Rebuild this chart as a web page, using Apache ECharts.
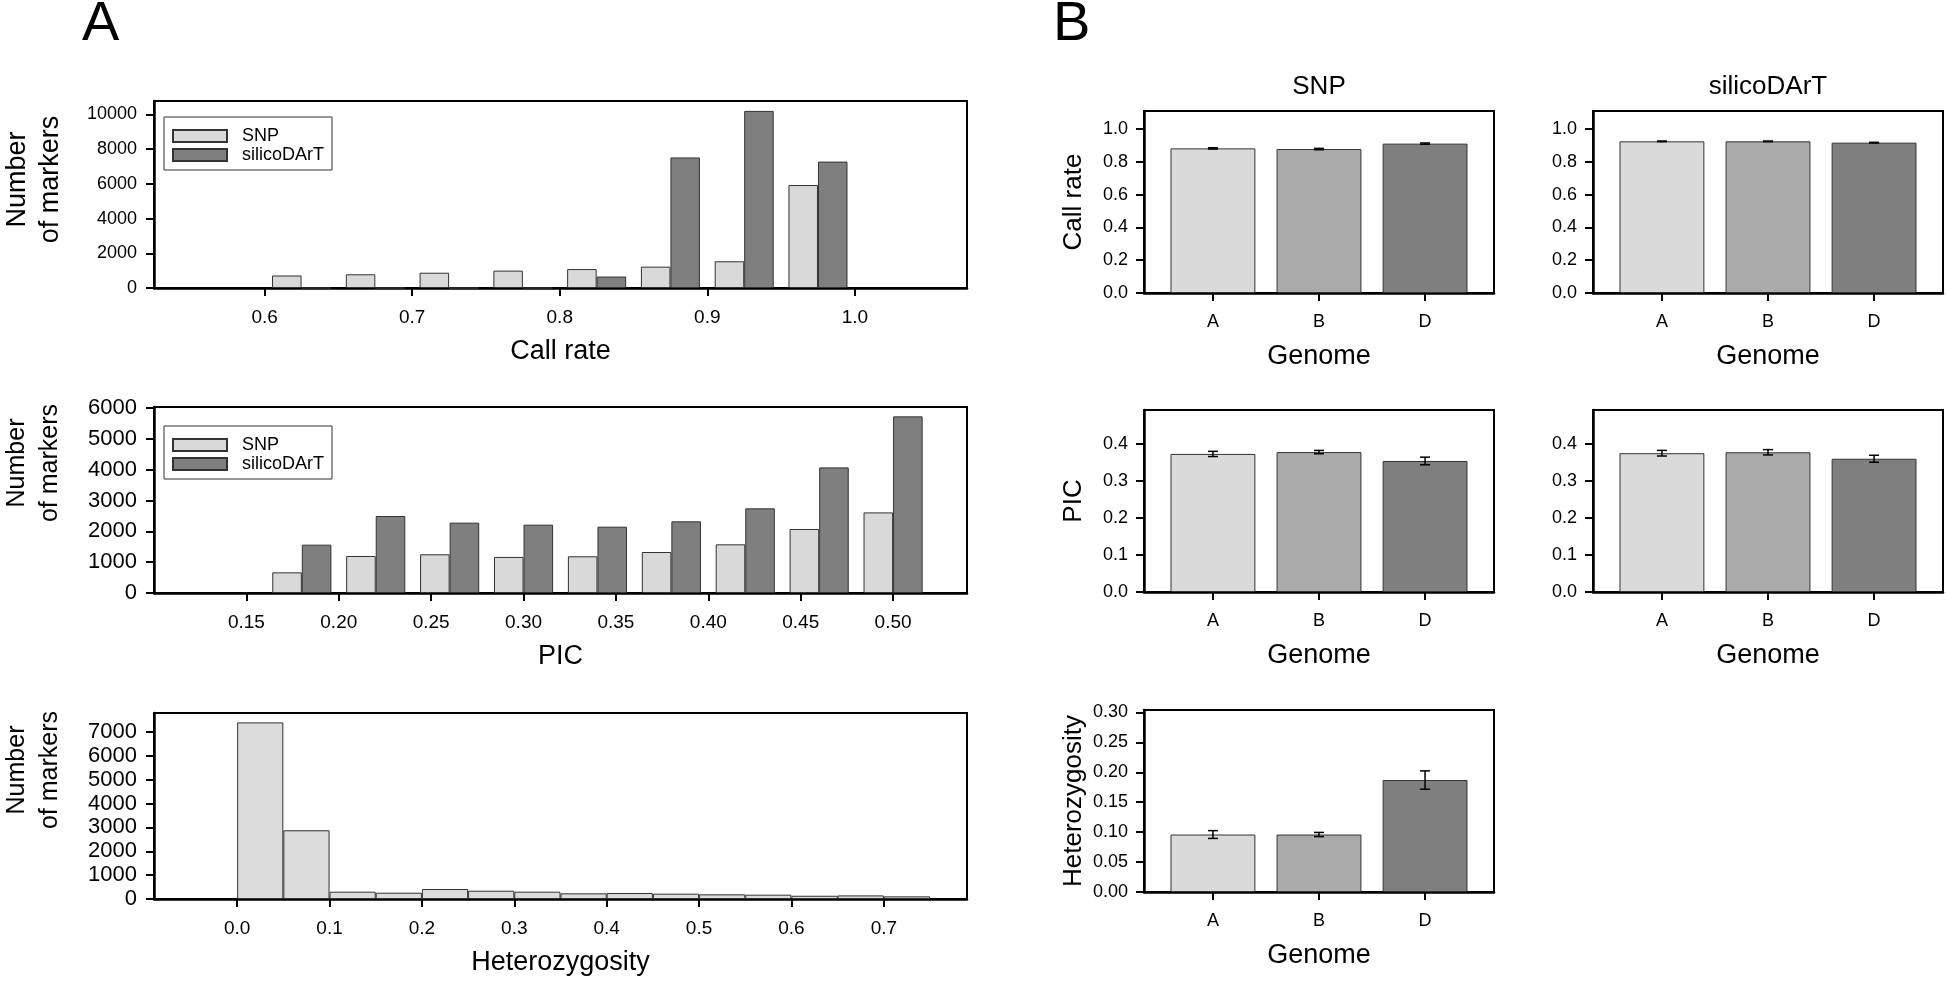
<!DOCTYPE html>
<html>
<head>
<meta charset="utf-8">
<script src="https://cdn.jsdelivr.net/npm/echarts@6/dist/echarts.min.js"></script>
<style>
html,body{margin:0;padding:0;background:#fff;}
#chart{width:1946px;height:981px;}
</style>
</head>
<body>
<div id="chart"></div>
<script>
// ---------------- Panel A data (histograms) ----------------
const callRateBins = [0.625, 0.675, 0.725, 0.775, 0.825, 0.875, 0.925, 0.975];
const callRateSNP = [720, 790, 880, 1000, 1090, 1230, 1540, 5930];
const callRateSilicoDArT = [0, 0, 0, 0, 660, 7520, 10200, 7280];
const callRateTicks = [0.6, 0.7, 0.8, 0.9, 1.0];
const callRateCountTicks = [0, 2000, 4000, 6000, 8000, 10000];

const picBins = [0.18, 0.22, 0.26, 0.30, 0.34, 0.38, 0.42, 0.46, 0.50];
const picSNP = [670, 1200, 1255, 1170, 1190, 1330, 1578, 2076, 2614];
const picSilicoDArT = [1567, 2497, 2281, 2216, 2151, 2324, 2745, 4074, 5728];
const picTicks = [0.15, 0.20, 0.25, 0.30, 0.35, 0.40, 0.45, 0.50];
const picCountTicks = [0, 1000, 2000, 3000, 4000, 5000, 6000];

const hetBins = [0.025, 0.075, 0.125, 0.175, 0.225, 0.275, 0.325, 0.375, 0.425, 0.475, 0.525, 0.575, 0.625, 0.675, 0.725];
const hetSNP = [7400, 2880, 306, 264, 418, 348, 306, 237, 250, 223, 195, 181, 135, 150, 111];
const hetTicks = [0.0, 0.1, 0.2, 0.3, 0.4, 0.5, 0.6, 0.7];
const hetCountTicks = [0, 1000, 2000, 3000, 4000, 5000, 6000, 7000];

// ---------------- Panel B data (means ± error) ----------------
const genomes = ['A', 'B', 'D'];
const genomePos = [1, 2, 3];
const snpCallRate = [0.882, 0.878, 0.911];
const snpCallRateErr = [0.004, 0.004, 0.004];
const silicoCallRate = [0.925, 0.925, 0.917];
const silicoCallRateErr = [0.002, 0.002, 0.002];
const snpPIC = [0.373, 0.378, 0.354];
const snpPICErr = [0.007, 0.0045, 0.0103];
const silicoPIC = [0.375, 0.3775, 0.360];
const silicoPICErr = [0.0076, 0.0072, 0.0094];
const snpHet = [0.096, 0.096, 0.187];
const snpHetErr = [0.0065, 0.0035, 0.0153];
const callRateBTicks = [0, 0.2, 0.4, 0.6, 0.8, 1.0];
const picBTicks = [0, 0.1, 0.2, 0.3, 0.4];
const hetBTicks = [0, 0.05, 0.10, 0.15, 0.20, 0.25, 0.30];

// ---------------- styles ----------------
const FONT = '"Liberation Sans", Arial, Helvetica, sans-serif';
const LIGHT = '#d9d9d9';
const DARK = '#7f7f7f';
const genomeColors = ['#dadada', '#ababab', '#7f7f7f'];
const BORDER = '#333333';

const grids = [], xAxes = [], yAxes = [], series = [];

function makeAxis(extra) {
  const base = {
    type: 'value',
    axisLine: {show: true, onZero: false, lineStyle: {color: '#000', width: 2.5}},
    axisTick: {show: true, inside: false, length: 8, lineStyle: {color: '#000', width: 2}},
    splitLine: {show: false},
    axisLabel: {color: '#000', fontFamily: FONT, fontSize: 18},
    nameTextStyle: {color: '#000', fontFamily: FONT, fontSize: 27},
    nameLocation: 'middle'
  };
  const out = Object.assign({}, base, extra);
  out.axisLabel = Object.assign({}, base.axisLabel, extra.axisLabel || {});
  out.axisTick = Object.assign({}, base.axisTick, extra.axisTick || {});
  out.nameTextStyle = Object.assign({}, base.nameTextStyle, extra.nameTextStyle || {});
  return out;
}

function addPanel(rect, xOpt, yOpt) {
  grids.push(Object.assign({show: true, borderColor: '#000', borderWidth: 2, backgroundColor: 'transparent', containLabel: false}, rect));
  const gi = grids.length - 1;
  xAxes.push(Object.assign(makeAxis(xOpt), {gridIndex: gi, position: 'bottom'}));
  yAxes.push(Object.assign(makeAxis(yOpt), {gridIndex: gi, position: 'left'}));
  return gi;
}

function pairs(xs, ys) { return xs.map((x, i) => [x, ys[i]]); }

function histBar(gi, name, xs, ys, color, extra) {
  return Object.assign({
    type: 'bar', name: name, xAxisIndex: gi, yAxisIndex: gi,
    data: pairs(xs, ys),
    barGap: '0%', barCategoryGap: '20%',
    itemStyle: {color: color, borderColor: BORDER, borderWidth: 1},
    emphasis: {disabled: true}, animation: false
  }, extra || {});
}

function genomeBar(gi, name, vals) {
  return {
    type: 'bar', name: name, xAxisIndex: gi, yAxisIndex: gi,
    barWidth: '80%',
    data: vals.map((v, i) => ({value: [genomePos[i], v], itemStyle: {color: genomeColors[i]}})),
    itemStyle: {borderColor: BORDER, borderWidth: 1},
    emphasis: {disabled: true}, animation: false
  };
}

function errorBars(gi, vals, errs) {
  return {
    type: 'custom', xAxisIndex: gi, yAxisIndex: gi, z: 5, animation: false,
    data: vals.map((v, i) => [genomePos[i], v - errs[i], v + errs[i]]),
    renderItem: function (params, api) {
      const x = api.value(0);
      const lo = api.coord([x, api.value(1)]);
      const hi = api.coord([x, api.value(2)]);
      const hw = 5;
      const st = {stroke: '#000', lineWidth: 1.5};
      return {type: 'group', children: [
        {type: 'line', shape: {x1: lo[0], y1: lo[1], x2: hi[0], y2: hi[1]}, style: st},
        {type: 'line', shape: {x1: lo[0] - hw, y1: lo[1], x2: lo[0] + hw, y2: lo[1]}, style: st},
        {type: 'line', shape: {x1: hi[0] - hw, y1: hi[1], x2: hi[0] + hw, y2: hi[1]}, style: st}
      ]};
    }
  };
}

const plainInt = v => String(Math.round(v));

const yNameA = (shift, size) => ({
  name: 'Number\nof markers', nameGap: 87, nameRotate: 90,
  nameTextStyle: {fontSize: size, lineHeight: 33, align: 'center', padding: [0, 0, 0, 2 * shift]}
});

// ---- A1: Call rate histogram ----
let g = addPanel({left: 150, top: 101, width: 817, height: 187},
  {min: 0.525, max: 1.076, name: 'Call rate', nameGap: 50,
   axisLabel: {customValues: callRateTicks, formatter: v => v.toFixed(1), margin: 20, fontSize: 19},
   axisTick: {customValues: callRateTicks}},
  Object.assign({min: 0, max: 10770,
   axisLabel: {customValues: callRateCountTicks, formatter: plainInt, margin: 17, fontSize: 18},
   axisTick: {customValues: callRateCountTicks}}, yNameA(15, 27)));
series.push(histBar(g, 'SNP', callRateBins, callRateSNP, LIGHT));
series.push(histBar(g, 'silicoDArT', callRateBins, callRateSilicoDArT, DARK));

// ---- A2: PIC histogram ----
g = addPanel({left: 150, top: 407, width: 817, height: 186},
  {min: 0.10, max: 0.54, name: 'PIC', nameGap: 50,
   axisLabel: {customValues: picTicks, formatter: v => v.toFixed(2), margin: 20, fontSize: 19},
   axisTick: {customValues: picTicks}},
  Object.assign({min: 0, max: 6032,
   axisLabel: {customValues: picCountTicks, formatter: plainInt, margin: 17, fontSize: 22},
   axisTick: {customValues: picCountTicks}}, yNameA(37, 25)));
series.push(histBar(g, 'SNP', picBins, picSNP, LIGHT));
series.push(histBar(g, 'silicoDArT', picBins, picSilicoDArT, DARK));

// ---- A3: Heterozygosity histogram ----
g = addPanel({left: 150, top: 713, width: 817, height: 186},
  {min: -0.09, max: 0.79, name: 'Heterozygosity', nameGap: 50,
   axisLabel: {customValues: hetTicks, formatter: v => v.toFixed(1), margin: 20, fontSize: 19},
   axisTick: {customValues: hetTicks}},
  Object.assign({min: 0, max: 7794,
   axisLabel: {customValues: hetCountTicks, formatter: plainInt, margin: 17, fontSize: 22},
   axisTick: {customValues: hetCountTicks}}, yNameA(36, 25)));
series.push(histBar(g, 'SNP heterozygosity', hetBins, hetSNP, '#dcdcdc', {barWidth: '100%', barCategoryGap: '0%'}));

// ---- B panels ----
const genomeX = {min: 0.35, max: 3.65, name: 'Genome', nameGap: 50,
  axisLabel: {customValues: genomePos, formatter: v => genomes[Math.round(v) - 1], margin: 20, fontSize: 18},
  axisTick: {customValues: genomePos}};
function yB(max, ticks, digits, name) {
  return {min: 0, max: max, name: name, nameGap: 57, nameRotate: 90,
    nameTextStyle: {fontSize: 26},
    axisLabel: {customValues: ticks, formatter: v => v.toFixed(digits), margin: 16, fontSize: 18},
    axisTick: {customValues: ticks}};
}
g = addPanel({left: 1144, top: 111, width: 350, height: 182}, genomeX, yB(1.11, callRateBTicks, 1, 'Call rate'));
series.push(genomeBar(g, 'SNP call rate', snpCallRate));
series.push(errorBars(g, snpCallRate, snpCallRateErr));
g = addPanel({left: 1593, top: 111, width: 350, height: 182}, genomeX, yB(1.11, callRateBTicks, 1, ''));
series.push(genomeBar(g, 'silicoDArT call rate', silicoCallRate));
series.push(errorBars(g, silicoCallRate, silicoCallRateErr));
g = addPanel({left: 1144, top: 410, width: 350, height: 182}, genomeX, yB(0.4917, picBTicks, 1, 'PIC'));
series.push(genomeBar(g, 'SNP PIC', snpPIC));
series.push(errorBars(g, snpPIC, snpPICErr));
g = addPanel({left: 1593, top: 410, width: 350, height: 182}, genomeX, yB(0.4917, picBTicks, 1, ''));
series.push(genomeBar(g, 'silicoDArT PIC', silicoPIC));
series.push(errorBars(g, silicoPIC, silicoPICErr));
g = addPanel({left: 1144, top: 710, width: 350, height: 182}, genomeX, yB(0.304, hetBTicks, 2, 'Heterozygosity'));
series.push(genomeBar(g, 'SNP heterozygosity by genome', snpHet));
series.push(errorBars(g, snpHet, snpHetErr));

const legendBase = {
  orient: 'vertical', left: 164, icon: 'rect', itemWidth: 54, itemHeight: 12, itemGap: 1,
  padding: [10, 8, 6, 8], backgroundColor: '#fff', borderColor: '#333', borderWidth: 1,
  borderRadius: 0, selectedMode: false,
  textStyle: {fontFamily: FONT, fontSize: 18, color: '#000', lineHeight: 17, padding: [0, 0, 0, 10]},
  data: ['SNP', 'silicoDArT']
};

const titleStyle = (size) => ({fontFamily: FONT, fontSize: size, fontWeight: 'normal', color: '#000', lineHeight: size});

const option = {
  animation: false,
  backgroundColor: '#fff',
  textStyle: {fontFamily: FONT},
  title: [
    {text: 'A', left: 82, top: -3, padding: 0, textStyle: titleStyle(56)},
    {text: 'B', left: 1053, top: -3, padding: 0, textStyle: titleStyle(56)},
    {text: 'SNP', left: 1319, top: 74, padding: 0, textAlign: 'center', textStyle: titleStyle(26)},
    {text: 'silicoDArT', left: 1768, top: 74, padding: 0, textAlign: 'center', textStyle: titleStyle(26)}
  ],
  legend: [
    Object.assign({}, legendBase, {top: 117}),
    Object.assign({}, legendBase, {top: 426})
  ],
  grid: grids,
  xAxis: xAxes,
  yAxis: yAxes,
  series: series
};

const chart = echarts.init(document.getElementById('chart'), null, {renderer: 'canvas'});
chart.setOption(option);
</script>
</body>
</html>
